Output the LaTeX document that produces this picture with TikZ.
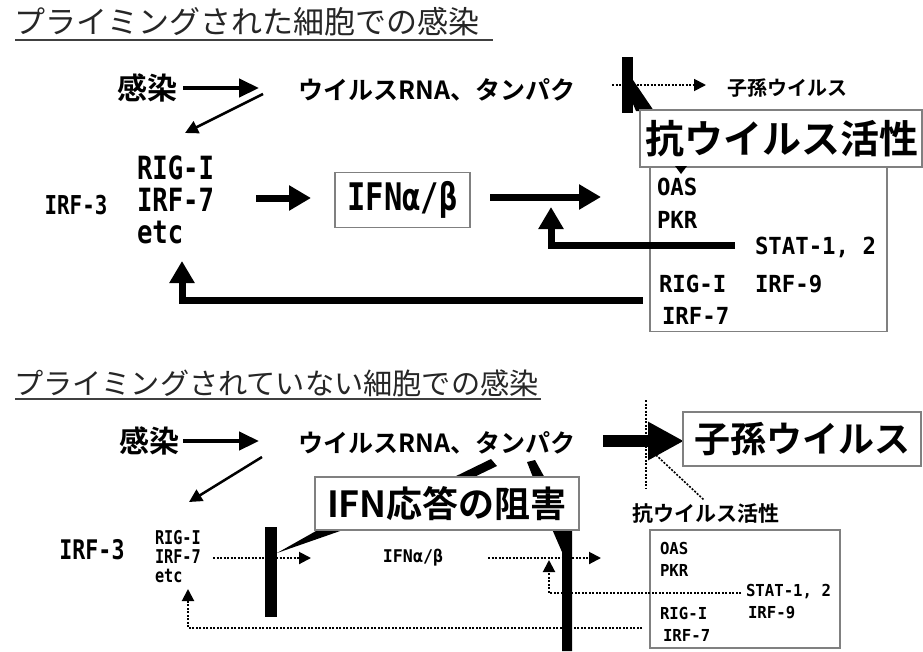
\documentclass[tikz,border=0pt]{standalone}
\usepackage{fontspec}
\usetikzlibrary{arrows.meta}
\newfontfamily\jp{Noto Sans CJK JP}[BoldFont={Noto Sans CJK JP Bold}]
\newfontfamily\monoN[FakeStretch=0.8]{DejaVu Sans Mono}
\newfontfamily\monoW[FakeStretch=0.95]{DejaVu Sans Mono}
\newcommand\fsz[2]{\fontsize{#1}{#2}\selectfont}
\tikzset{
  every node/.style={inner sep=0pt, outer sep=0pt},
  ttl/.style={font=\jp\fsz{#1}{#1}, text=black!85},
  jpb/.style={font=\jp\bfseries\fsz{#1}{#1}},
  latn/.style={font=\monoN\bfseries\fsz{#1}{#1}},
  latw/.style={font=\monoW\bfseries\fsz{#1}{#1}},
  gbox/.style={draw=black!50, line width=1.6pt, fill=white},
  ulin/.style={line width=2pt, black!75},
  bigarr/.style={line width=7pt, line join=miter, -{Triangle[length=22pt,width=24pt]}},
  midarr/.style={line width=4.5pt, -{Triangle[length=20pt,width=18pt]}},
  thinarr/.style={line width=2.5pt, -{Triangle[length=13pt,width=13pt]}},
  dotarr/.style={line width=2pt, dash pattern=on 2pt off 1.5pt, -{Triangle[length=12pt,width=12pt]}},
  dotline/.style={line width=2pt, dash pattern=on 2pt off 1.5pt},
}
\begin{document}
\begin{tikzpicture}[x=1pt,y=-1pt]
\useasboundingbox[fill=white] (0,0) rectangle (923,651);

% ================= top section =================
\node[ttl=31, anchor=west] (t1) at (14,22) {プライミングされた細胞での感染};
\draw[ulin] (15,40) -- (493,40);

\node[jpb=30] (inf1) at (147,88) {感染};
\coordinate (a1s) at (183,88);
\coordinate (a1e) at (259,88);
\draw[midarr] (a1s) -- (a1e);

\node[jpb=25] (vr1) at (437,90) {ウイルスRNA、タンパク};
\coordinate (d1s) at (263,94);
\coordinate (d1e) at (185,133);
\draw[thinarr] (d1s) -- (d1e);

\node[latn=32, align=left, anchor=north west] (rig1) at (137,156)
  {\fsz{32}{37.5}RIG-I\\IRF-7\\etc};
\node[latn=26] (irf3a) at (76,205) {IRF-3};

\coordinate (b1s) at (256,198);
\coordinate (b1e) at (311,198);
\draw[bigarr] (b1s) -- (b1e);

\node[gbox, minimum width=135pt, minimum height=55pt] (ifn1) at (402.5,200) {};
\node[latn=38] (ifn1t) at (ifn1) {IFNα/β};

\coordinate (b2s) at (490,197);
\coordinate (b2e) at (601,197);
\draw[bigarr] (b2s) -- (b2e);

% right box
\node[gbox, fill=none, minimum width=237pt, minimum height=165pt] (rb1) at (768.5,249) {};
\node[latw=23.5, anchor=west] (oas1) at (657,187) {OAS};
\node[latw=23.5, anchor=west] (pkr1) at (657,220) {PKR};
\node[latw=23.5, anchor=west] (stat1) at (755,247) {STAT-1, 2};
\node[latw=23.5, anchor=west] (rigb1) at (659,284) {RIG-I};
\node[latw=23.5, anchor=west] (irf9a) at (755,284) {IRF-9};
\node[latw=23.5, anchor=west] (irf7b) at (662,316) {IRF-7};

% feedback arrows
\coordinate (f1s) at (735,245);
\coordinate (f1c) at (551,245);
\coordinate (f1e) at (551,207);
\draw[bigarr] (f1s) -- (f1c) -- (f1e);
\coordinate (f2s) at (643,300);
\coordinate (f2c) at (182,300);
\coordinate (f2e) at (182,261);
\draw[bigarr] (f2s) -- (f2c) -- (f2e);

% progeny, blocked
\coordinate (p1s) at (612,85);
\coordinate (p1e) at (706,85);
\draw[dotarr, line width=1.8pt] (p1s) -- (p1e);
\node[jpb=20] (prog1) at (787,88) {子孫ウイルス};
\fill (622,57) rectangle (633,113);
\fill (633,80) -- (654,111) -- (636,111) -- (633,104) -- cycle;

\node[gbox, minimum width=282pt, minimum height=57pt] (anti1) at (781,138.5) {};
\node[jpb=39] (anti1t) at (782,139) {抗ウイルス活性};
\fill (675,166) -- (687,166) -- (681,174) -- cycle;

% ================= bottom section =================
\node[ttl=29.2, anchor=west] (t2) at (14,383) {プライミングされていない細胞での感染};
\draw[ulin] (15,399) -- (541,399);

\node[jpb=30] (inf2) at (149,441) {感染};
\coordinate (a2s) at (183,441);
\coordinate (a2e) at (259,441);
\draw[midarr] (a2s) -- (a2e);

\node[jpb=25] (vr2) at (437,443) {ウイルスRNA、タンパク};

\coordinate (d2s) at (262,457);
\coordinate (d2e) at (189,502);
\draw[thinarr] (d2s) -- (d2e);

\node[latn=27] (irf3b) at (92,550) {IRF-3};
\node[latn=19, align=left, anchor=north west] (rig2) at (155,530)
  {\fsz{19}{21.5}RIG-I\\IRF-7\\etc};

\coordinate (e1s) at (213,558);
\coordinate (e1e) at (311,558);
\draw[dotarr] (e1s) -- (e1e);
\node[latw=17.5] (ifn2) at (413,558) {IFNα/β};
\coordinate (e2s) at (488,558);
\coordinate (e2e) at (601,558);
\draw[dotarr] (e2s) -- (e2e);

% bottom right box
\node[gbox, fill=none, minimum width=190pt, minimum height=118pt] (rb2) at (745,589) {};
\node[latw=16.5, anchor=west] (oas2) at (660,548) {OAS};
\node[latw=16.5, anchor=west] (pkr2) at (660,570) {PKR};
\node[latw=16.5, anchor=west] (stat2) at (746,592) {STAT-1, 2};
\node[latw=16.5, anchor=west] (rigb2) at (660,613) {RIG-I};
\node[latw=16.5, anchor=west] (irf9b) at (748,613) {IRF-9};
\node[latw=16.5, anchor=west] (irf7c) at (663,635) {IRF-7};

\coordinate (g1s) at (741,593);
\coordinate (g1c) at (549,593);
\coordinate (g1e) at (549,560);
\draw[dotarr] (g1s) -- (g1c) -- (g1e);
\coordinate (g2s) at (642,628);
\coordinate (g2c) at (188,628);
\coordinate (g2e) at (188,589);
\draw[dotarr] (g2s) -- (g2c) -- (g2e);

% progeny (unblocked)
\coordinate (p2s) at (603,441);
\coordinate (p2e) at (684,441);
\draw[line width=12pt, -{Triangle[length=36pt,width=36pt]}] (p2s) -- (p2e);
\coordinate (v1s) at (646,400);
\coordinate (v1e) at (646,488);
\draw[dotline] (v1s) -- (v1e);
\coordinate (w1s) at (656,455);
\coordinate (w1e) at (704,500);
\draw[dotline, line width=1.6pt] (w1s) -- (w1e);
\node[gbox, minimum width=238pt, minimum height=54pt] (prog2) at (802,439) {};
\node[jpb=36] (prog2t) at (prog2) {子孫ウイルス};
\node[jpb=21] (anti2) at (706,513) {抗ウイルス活性};

% inhibition bars and callout wedges
\fill (265,527) rectangle (277,617);
\fill (277,553) -- (371,500) -- (429,500) -- cycle;
\fill (450,479) -- (470,479) -- (497,466) -- (491,459) -- cycle;
\fill (527,462) -- (535,460) -- (546,480) -- (534,480) -- cycle;
\fill (552,529) -- (572,529) -- (572,651) -- (562,651) -- (562,552) -- cycle;

\node[gbox, minimum width=264pt, minimum height=53pt] (inh) at (447,503.5) {};
\node[jpb=36] (inht) at (inh) {IFN応答の阻害};
\end{tikzpicture}
\end{document}
